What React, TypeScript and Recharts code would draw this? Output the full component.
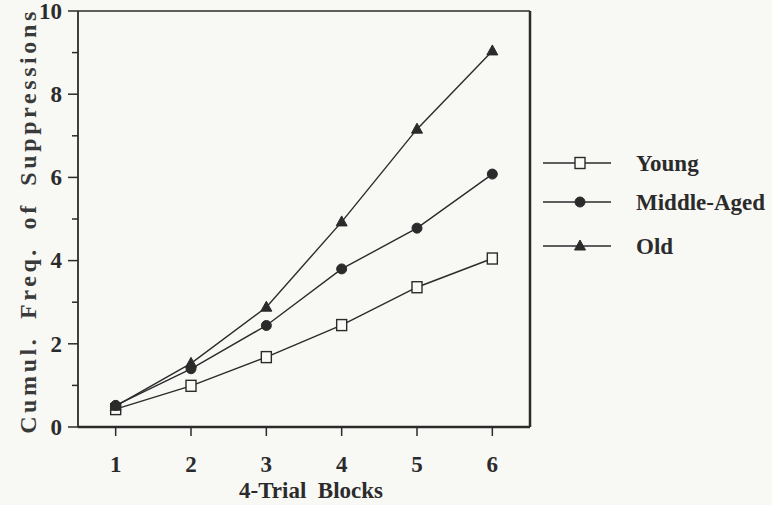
import React from "react";
import { LineChart, Line, XAxis, YAxis, ReferenceLine } from "recharts";

const blocks = [1, 2, 3, 4, 5, 6];
const young = [0.43, 0.99, 1.68, 2.45, 3.36, 4.05];
const middleAged = [0.52, 1.4, 2.44, 3.8, 4.78, 6.08];
const old = [0.5, 1.53, 2.88, 4.93, 7.16, 9.04];
const xTicks = [1, 2, 3, 4, 5, 6];
const yTicks = [0, 1, 2, 3, 4, 5, 6, 7, 8, 9, 10];
const seriesKeys = ["young", "middle", "old"];
const seriesNames = ["Young", "Middle-Aged", "Old"];

const data = blocks.map((b, i) => ({ block: b, young: young[i], middle: middleAged[i], old: old[i] }));

const INK = "#2b2b2b";
const FONT = "Liberation Serif, Tinos, Times New Roman, Times, serif";

const Marker = ({ kind, cx, cy }: { kind: string; cx: number; cy: number }) => {
  if (kind === "young")
    return <rect x={cx - 5} y={cy - 5.5} width={10} height={11} fill="#fafaf7" stroke={INK} strokeWidth={1.4} />;
  if (kind === "middle") return <circle cx={cx} cy={cy} r={5} fill={INK} stroke={INK} />;
  return <polygon points={`${cx},${cy - 6} ${cx + 5.5},${cy + 4} ${cx - 5.5},${cy + 4}`} fill={INK} stroke={INK} />;
};

const makeDot = (kind: string) => (props: any) => {
  const { cx, cy, index } = props;
  return (
    <g key={`${kind}-${index}`}>
      <Marker kind={kind} cx={cx} cy={cy} />
    </g>
  );
};

const textStyle = { fontFamily: FONT, fontWeight: 700 } as React.CSSProperties;

const YTick = (props: any) => {
  const { x, y, payload } = props;
  const major = payload.value % 2 === 0;
  return (
    <g>
      <line x1={x} x2={x - (major ? 10 : 6)} y1={y} y2={y} stroke={INK} strokeWidth={1.5} />
      {major && (
        <text x={x - 16} y={y} dy="0.34em" textAnchor="end" style={textStyle} fontSize={23} fill={INK}>
          {payload.value}
        </text>
      )}
    </g>
  );
};

const XTick = (props: any) => {
  const { x, y, payload } = props;
  return (
    <text x={x} y={y} dy="0.71em" textAnchor="middle" style={textStyle} fontSize={23} fill={INK}>
      {payload.value}
    </text>
  );
};

const LegendBox = () => {
  const rowsY = [23, 62, 106];
  return (
    <svg width={232} height={130} style={{ position: "absolute", left: 540, top: 140 }}>
      {seriesKeys.map((k, i) => {
        const y = rowsY[i];
        return (
          <g key={k}>
            <line x1={3} x2={71} y1={y} y2={y} stroke={INK} strokeWidth={1.3} />
            <Marker kind={k} cx={40} cy={y} />
            <text x={96} y={y} dy="0.35em" style={textStyle} fontSize={23} fill={INK}>
              {seriesNames[i]}
            </text>
          </g>
        );
      })}
    </svg>
  );
};

export default function App() {
  return (
    <div style={{ position: "absolute", left: 0, top: 0, width: 772, height: 505, background: "#f8f8f5" }}>
      <LineChart width={772} height={505} data={data} margin={{ top: 11, right: 242, bottom: 0, left: 0 }}>
        <XAxis
          dataKey="block"
          type="number"
          domain={[0.5, 6.5]}
          ticks={xTicks}
          height={78}
          tickSize={9}
          tickMargin={20}
          stroke={INK}
          axisLine={{ stroke: INK, strokeWidth: 2.5 }}
          tickLine={{ stroke: INK, strokeWidth: 1.5 }}
          tick={<XTick />}
          label={{
            content: (p: any) => {
              const vb = p.viewBox;
              return (
                <text x={311} y={vb.y + 71} textAnchor="middle" style={textStyle} fontSize={23} fill={INK}>
                  {"4-Trial\u00A0\u00A0Blocks"}
                </text>
              );
            },
          }}
        />
        <YAxis
          type="number"
          domain={[0, 10]}
          ticks={yTicks}
          width={78}
          interval={0}
          tickSize={0}
          tickMargin={0}
          tickLine={false}
          axisLine={{ stroke: INK, strokeWidth: 1.8 }}
          tick={<YTick />}
          label={{
            content: (p: any) => {
              const vb = p.viewBox;
              const cx = 28;
              const cy = vb.y + vb.height / 2 + 2;
              return (
                <text
                  x={cx}
                  y={cy}
                  transform={`rotate(-90 ${cx} ${cy})`}
                  textAnchor="middle"
                  dy="0.35em"
                  style={{ ...textStyle, letterSpacing: "3.6px", wordSpacing: "7px" }}
                  fontSize={24}
                  fill="#3a3a3a"
                >
                  Cumul. Freq. of Suppressions
                </text>
              );
            },
          }}
        />
        <ReferenceLine y={10} stroke={INK} strokeWidth={1.5} />
        <ReferenceLine x={6.5} stroke={INK} strokeWidth={2.5} />
        <Line dataKey="young" name={seriesNames[0]} stroke={INK} strokeWidth={1.4} dot={makeDot("young")} isAnimationActive={false} />
        <Line dataKey="middle" name={seriesNames[1]} stroke={INK} strokeWidth={1.4} dot={makeDot("middle")} isAnimationActive={false} />
        <Line dataKey="old" name={seriesNames[2]} stroke={INK} strokeWidth={1.4} dot={makeDot("old")} isAnimationActive={false} />
      </LineChart>
      <LegendBox />
    </div>
  );
}
